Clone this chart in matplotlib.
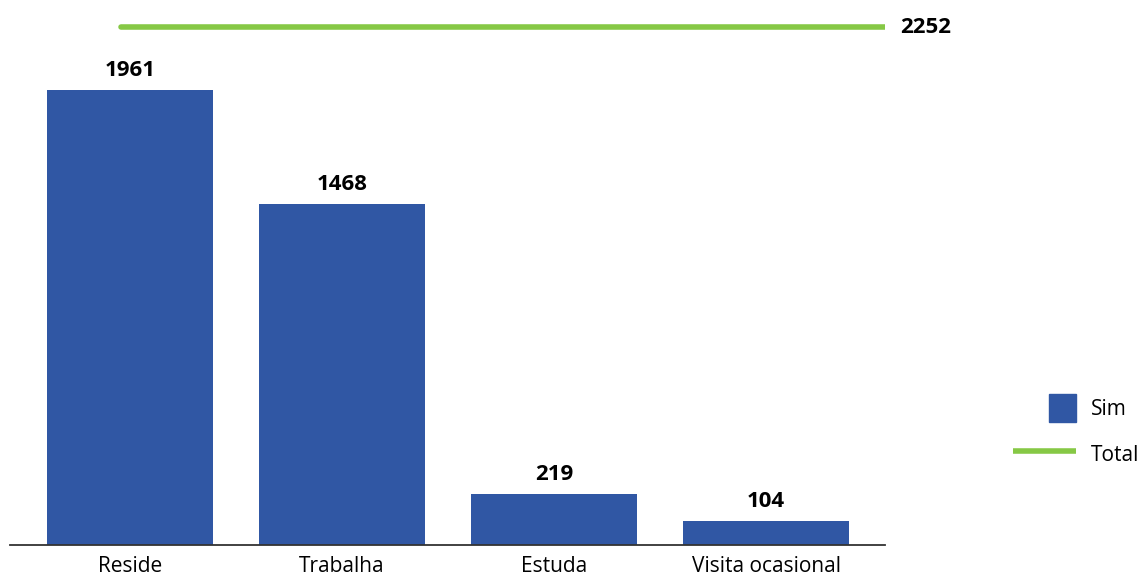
import numpy as np
import matplotlib.pyplot as plt
from matplotlib.lines import Line2D
from matplotlib.patches import Patch, Rectangle
from matplotlib.legend_handler import HandlerPatch

plt.rcParams['font.family'] = ['Open Sans', 'DejaVu Sans']

categorias = ['Reside', 'Trabalha', 'Estuda', 'Visita ocasional']
sim = [1961, 1468, 219, 104]
total = 2252

azul = '#3057a4'
verde = '#86c845'

fig = plt.figure(figsize=(11.43, 5.79), dpi=100)
ax = fig.add_axes([10/1143, 34/579, 875/1143, 545/579])

x = np.arange(len(categorias))
ax.bar(x, sim, width=0.78, color=azul)
for xi, v in zip(x, sim):
    ax.text(xi, v + 40, str(v), ha='center', va='bottom', fontsize=16, fontweight='bold')

# linha do total
x_total = [x[0] - 0.04, x[-1] + 0.56]
ax.plot(x_total, [total - 20, total - 20], color=verde, lw=4, solid_capstyle='round')
ax.text(x_total[1] + 0.07, total - 20, str(total), ha='left', va='center',
        fontsize=16, fontweight='bold', clip_on=False)

ax.set_xlim(-0.565, 3.56)
ax.set_ylim(0, 2349)
ax.set_xticks(x)
ax.set_xticklabels(categorias, fontsize=15)
ax.tick_params(axis='x', length=0, pad=8)
ax.set_yticks([])
for s in ['top', 'right', 'left']:
    ax.spines[s].set_visible(False)
ax.spines['bottom'].set_color('#333333')
ax.spines['bottom'].set_linewidth(1.3)


def quadrado(legend, orig_handle, xdescent, ydescent, width, height, fontsize):
    s = 19.5
    return Rectangle((width - s - xdescent, height / 2 - s / 2 - ydescent), s, s)


handles = [Patch(color=azul, label='Sim'),
           Line2D([0], [0], color=verde, lw=4, label='Total', solid_capstyle='butt')]
fig.legend(handles=handles, loc='center left', bbox_to_anchor=(994/1143, 1 - 431/579),
           frameon=False, fontsize=15, handlelength=3.05, handleheight=1.4,
           handletextpad=0.7, labelspacing=1.05,
           handler_map={Patch: HandlerPatch(patch_func=quadrado)})

fig.savefig('out.png', dpi=100)
